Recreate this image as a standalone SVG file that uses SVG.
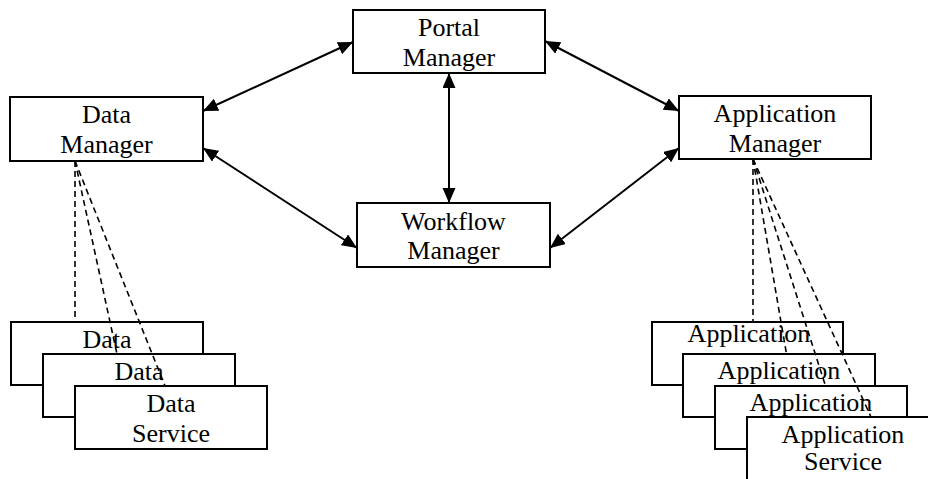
<svg xmlns="http://www.w3.org/2000/svg" width="928" height="479" viewBox="0 0 928 479">
<style>
.box{fill:#fff;stroke:#000;stroke-width:2}
.t{font-family:"Liberation Serif","Times New Roman",serif;font-size:26px;fill:#000;text-anchor:middle}
.arr{stroke:#000;stroke-width:2;fill:none;marker-start:url(#ah);marker-end:url(#ah)}
.dash{stroke:#000;stroke-width:1.6;fill:none;stroke-dasharray:6,4}
</style>
<defs>
<marker id="ah" markerUnits="userSpaceOnUse" markerWidth="16" markerHeight="14" refX="15" refY="6.5" orient="auto-start-reverse">
<path d="M0,0 L15,6.5 L0,13 z" fill="#000"/>
</marker>
</defs>
<rect width="928" height="479" fill="#fff"/>
<g id="portal-manager">
<rect class="box" x="353" y="10" width="192" height="63"/>
<text class="t" x="449" y="36">Portal</text>
<text class="t" x="449" y="66">Manager</text>
</g>
<g id="data-manager">
<rect class="box" x="10" y="97" width="193" height="64"/>
<text class="t" x="106.5" y="123">Data</text>
<text class="t" x="106.5" y="153">Manager</text>
</g>
<g id="application-manager">
<rect class="box" x="679" y="96" width="192" height="63"/>
<text class="t" x="775" y="122">Application</text>
<text class="t" x="775" y="152">Manager</text>
</g>
<g id="workflow-manager">
<rect class="box" x="357" y="203" width="193" height="64"/>
<text class="t" x="453.5" y="230">Workflow</text>
<text class="t" x="453.5" y="259">Manager</text>
</g>
<g id="data-service-1">
<rect class="box" x="11" y="322" width="192" height="63"/>
<text class="t" x="107" y="348">Data</text>
</g>
<g id="data-service-2">
<rect class="box" x="43" y="354" width="192" height="63"/>
<text class="t" x="139" y="380">Data</text>
</g>
<g id="data-service-3">
<rect class="box" x="75" y="386" width="192" height="63"/>
<text class="t" x="171" y="412">Data</text>
<text class="t" x="171" y="442">Service</text>
</g>
<g id="application-service-1">
<rect class="box" x="652" y="322" width="191" height="63"/>
<text class="t" x="749" y="342">Application</text>
</g>
<g id="application-service-2">
<rect class="box" x="683" y="354" width="192" height="63"/>
<text class="t" x="779" y="379">Application</text>
</g>
<g id="application-service-3">
<rect class="box" x="715" y="386" width="192" height="63"/>
<text class="t" x="811" y="411">Application</text>
</g>
<g id="application-service-4">
<rect class="box" x="747" y="417" width="192" height="70"/>
<text class="t" x="843" y="443">Application</text>
<text class="t" x="843" y="470">Service</text>
</g>
<g id="connectors">
<line class="arr" x1="203" y1="111" x2="353" y2="42"/>
<line class="arr" x1="545" y1="41" x2="679" y2="111"/>
<line class="arr" x1="449" y1="73" x2="449" y2="203"/>
<line class="arr" x1="203" y1="148" x2="357" y2="248"/>
<line class="arr" x1="679" y1="148" x2="550" y2="248"/>
<line class="dash" x1="75" y1="161" x2="75" y2="322"/>
<line class="dash" x1="75" y1="161" x2="117" y2="354"/>
<line class="dash" x1="75" y1="161" x2="165" y2="386"/>
<line class="dash" x1="753" y1="159" x2="753" y2="322"/>
<line class="dash" x1="753" y1="159" x2="786.5" y2="354"/>
<line class="dash" x1="753" y1="159" x2="825.5" y2="386"/>
<line class="dash" x1="753" y1="159" x2="871" y2="417"/>
</g>
</svg>
